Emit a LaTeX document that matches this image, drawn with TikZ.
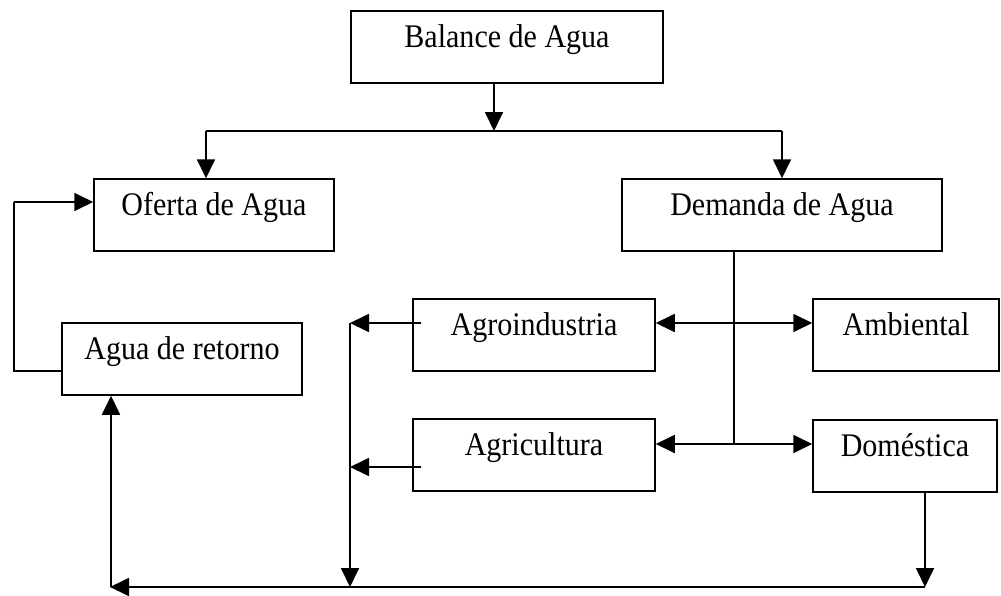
\documentclass[tikz,border=0pt]{standalone}
\usepackage{fontspec}
\setmainfont{Liberation Serif}[FakeStretch=0.91]
\usetikzlibrary{positioning,arrows.meta}

\tikzset{
  caja/.style={draw, line width=1.5pt, inner sep=0pt, minimum height=72pt,
    text height=20pt, text depth=20pt, font=\fontsize{33}{38}\selectfont},
  flecha/.style={line width=1.8pt, -{Triangle[length=19pt,width=18pt]}},
  linea/.style={line width=1.8pt}
}

\begin{document}
\begin{tikzpicture}[x=1pt, y=-1pt]

    \useasboundingbox (0,0) rectangle (1001,595);

    % Draw the boxes
    \node[caja, minimum width=312pt] (bal) at (507,47) {Balance de Agua};
    \node[caja, minimum width=240pt] (ofe) at (214,215) {Oferta de Agua};
    \node[caja, minimum width=320pt] (dem) at (782,215) {Demanda de Agua};
    \node[caja, minimum width=240pt] (ret) at (182,359) {Agua de retorno};
    \node[caja, minimum width=242pt] (agi) at (534,335) {Agroindustria};
    \node[caja, minimum width=242pt] (agr) at (534,455) {Agricultura};
    \node[caja, minimum width=186pt] (amb) at (906,335) {Ambiental};
    \node[caja, minimum width=184pt] (dom) at (905,456) {Doméstica};

    % Junction points
    \coordinate (rama) at (494,131);
    \coordinate (ramaI) at (206,131);
    \coordinate (ramaD) at (782,131);
    \coordinate (dA) at (734,323);
    \coordinate (dB) at (734,444);
    \coordinate (colA) at (350,323);
    \coordinate (colB) at (350,467);
    \coordinate (colC) at (350,587);
    \coordinate (fondoD) at (925,587);
    \coordinate (fondoI) at (110,587);
    \coordinate (esquina) at (111,587);
    \coordinate (vueltaA) at (14,371);
    \coordinate (vueltaB) at (14,202);

    % Balance splits into supply and demand
    \draw[flecha] (bal.south -| rama) -- (rama);
    \draw[linea] (ramaI) -- (ramaD);
    \draw[flecha] (ramaI) -- (ofe.north -| ramaI);
    \draw[flecha] (ramaD) -- (dem.north);

    % Demand to its four uses
    \draw[linea] (dem.south -| dA) -- (dB);
    \draw[flecha] (dA) -- (agi.east |- dA);
    \draw[flecha] (dA) -- (amb.west |- dA);
    \draw[flecha] (dB) -- (agr.east |- dB);
    \draw[flecha] (dB) -- (dom.west |- dB);

    % Return flows
    \draw[flecha] ([xshift=9pt]agi.west |- colA) -- (colA);
    \draw[flecha] ([xshift=9pt]agr.west |- colB) -- (colB);
    \draw[flecha] (colA) -- (colC);
    \draw[flecha] (dom.south -| fondoD) -- (fondoD);
    \draw[flecha] (fondoD) -- (fondoI);
    \draw[flecha] (esquina) -- (ret.south -| esquina);

    % Back to supply
    \draw[linea] (ret.west |- vueltaA) -- (vueltaA) -- (vueltaB);
    \draw[flecha] (vueltaB) -- (ofe.west |- vueltaB);

\end{tikzpicture}
\end{document}
